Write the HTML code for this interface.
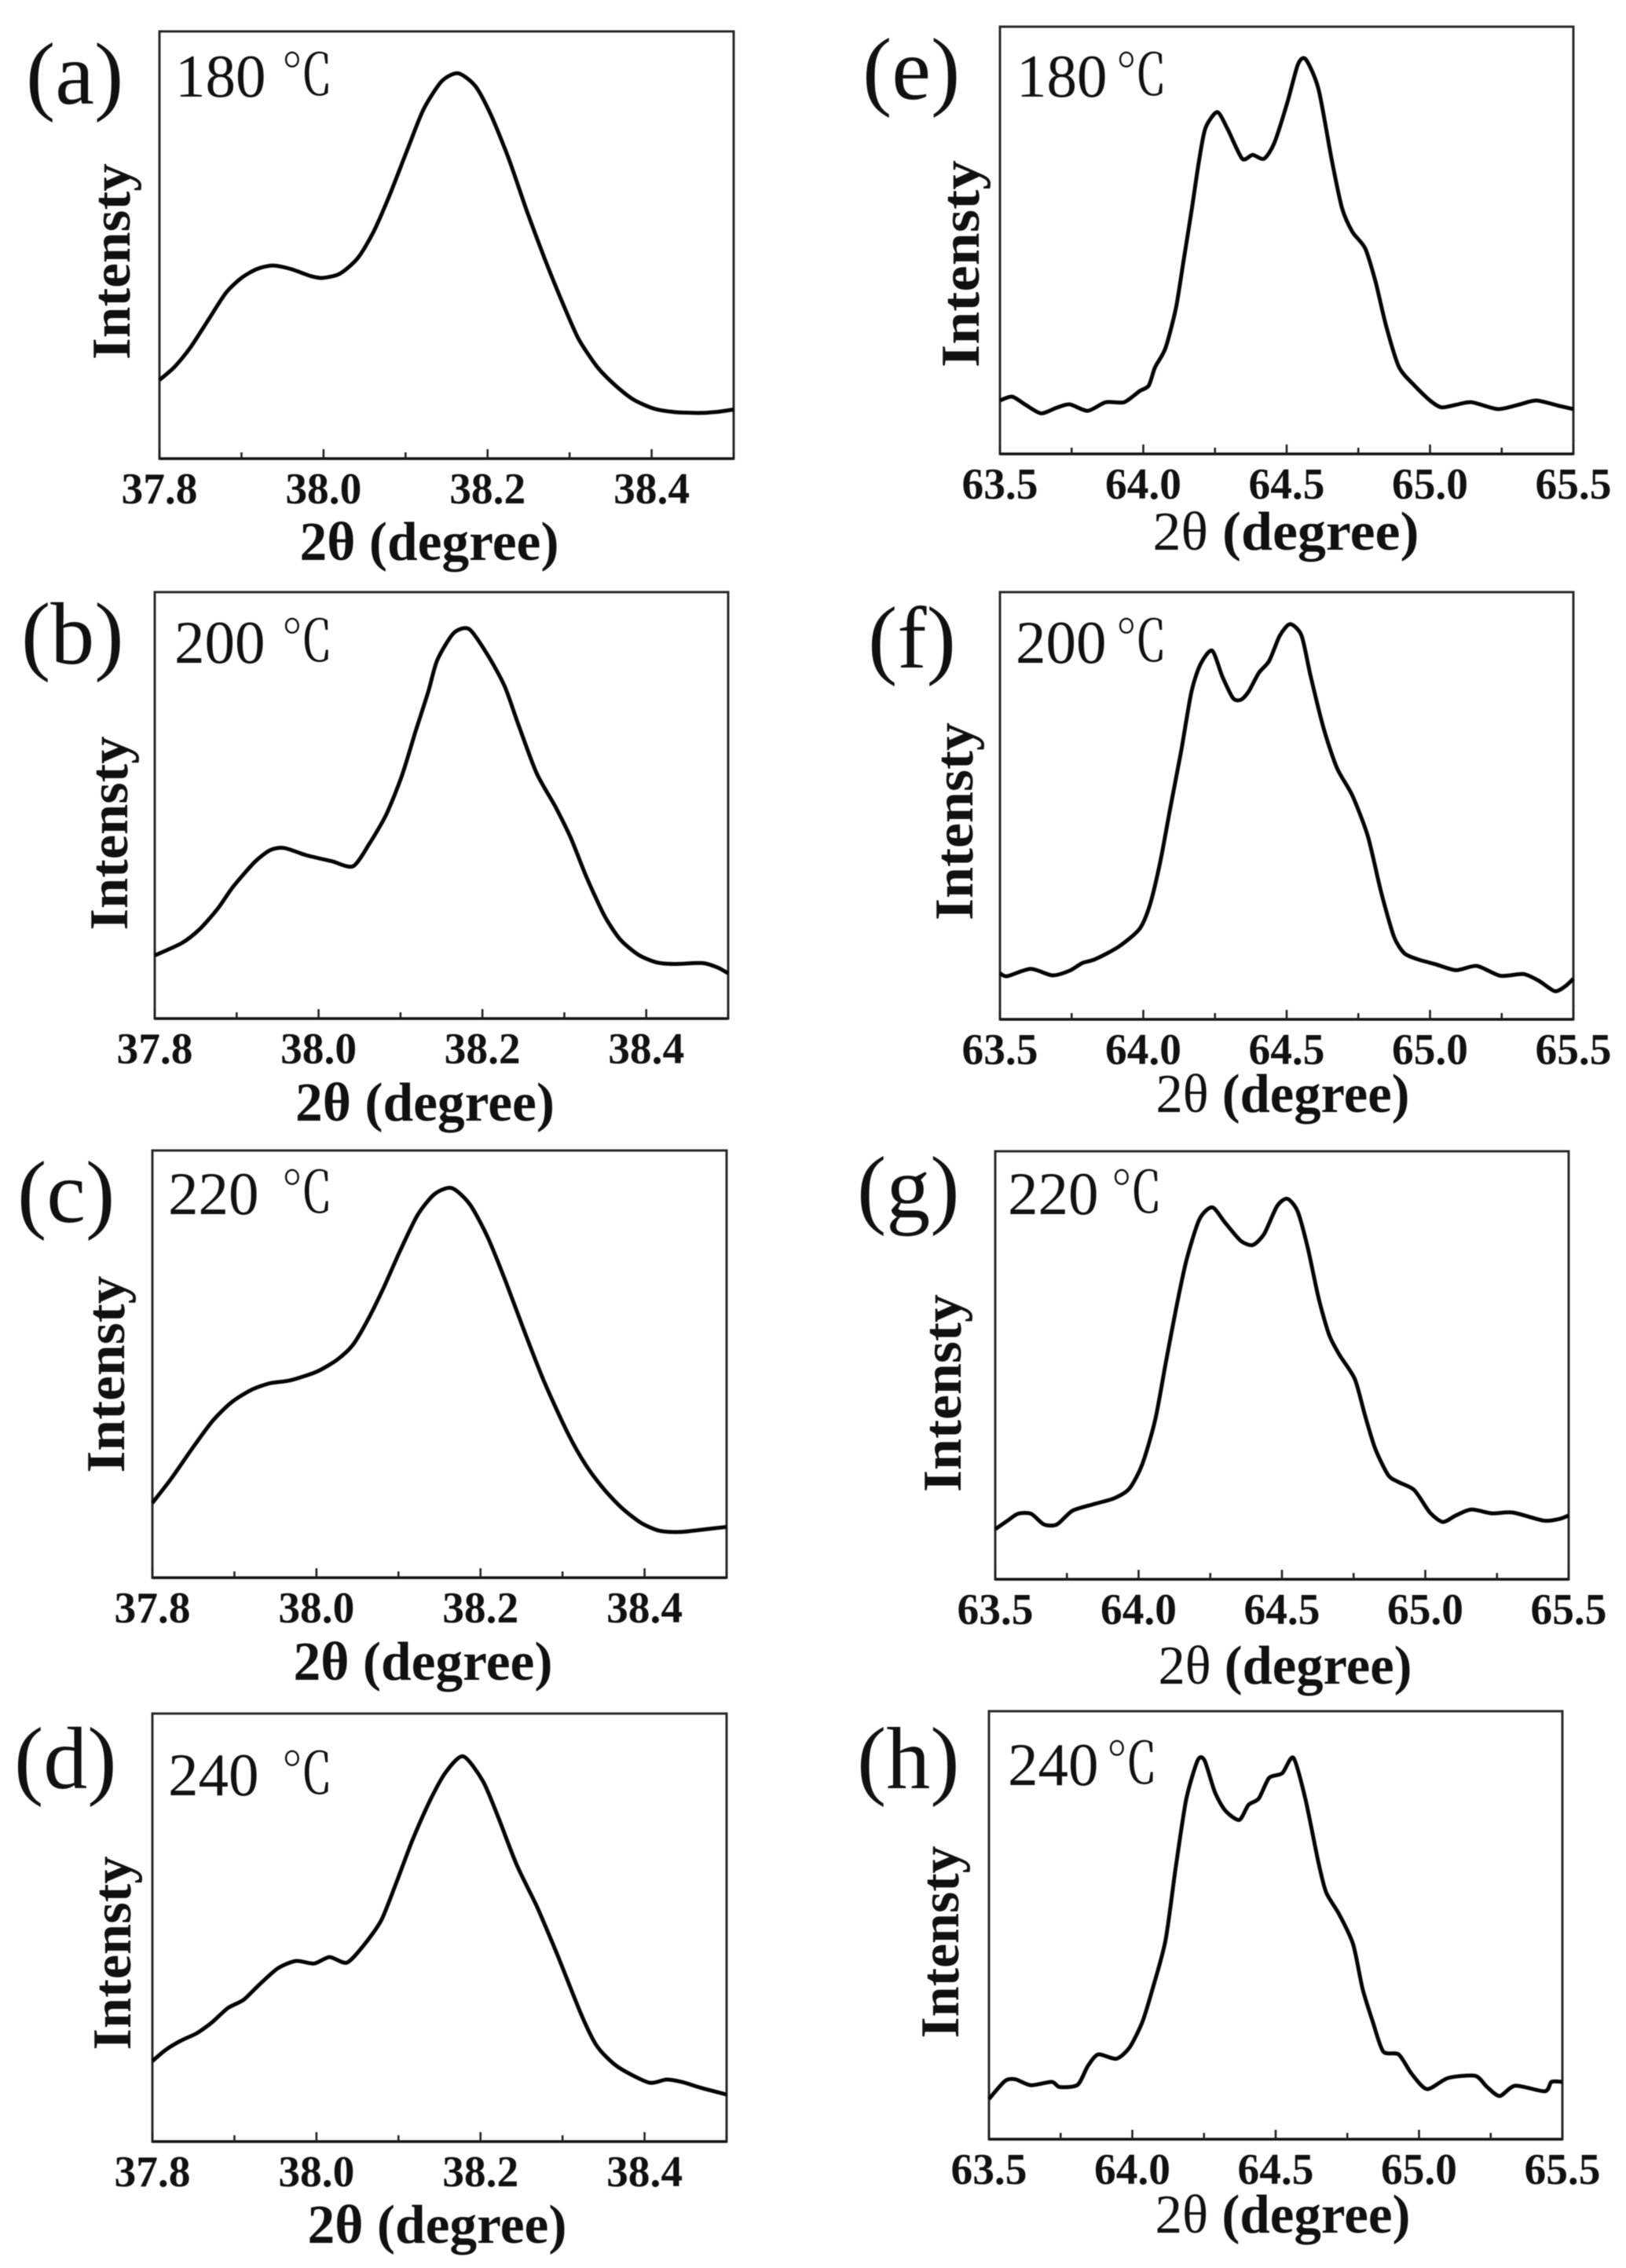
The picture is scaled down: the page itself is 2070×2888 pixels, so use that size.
<!DOCTYPE html>
<html lang="en">
<head>
<meta charset="utf-8">
<title>XRD peak profiles</title>
<style>
html,body{margin:0;padding:0;background:#fff;}
svg{display:block;filter:blur(0.6px);}
text{fill:#111;font-family:"Liberation Serif","Noto Serif CJK SC",serif;}
</style>
</head>
<body>
<svg id="figure" xmlns="http://www.w3.org/2000/svg" width="2070" height="2888" viewBox="0 0 2070 2888"></svg>
<script>
// ---- Data: 2-theta (degree) and relative intensity (0-100 of axis height) ----
const thetaA = [37.800,37.818,37.837,37.859,37.881,37.900,37.919,37.938,37.960,37.985,37.999,38.020,38.042,38.061,38.080,38.103,38.122,38.144,38.164,38.185,38.204,38.226,38.248,38.270,38.292,38.311,38.334,38.356,38.378,38.403,38.428,38.460,38.482,38.500];
const intensityA = [18.4,21.4,25.8,32.3,38.8,42.3,44.4,45.2,44.4,42.7,42.3,43.3,47.0,53.1,61.4,72.7,81.8,88.3,90.2,87.2,80.5,70.1,57.9,46.6,36.2,28.0,21.4,17.1,13.8,11.7,10.9,10.7,11.0,11.5];

const thetaB = [37.800,37.833,37.855,37.877,37.896,37.922,37.941,37.958,37.985,38.016,38.042,38.062,38.083,38.102,38.118,38.134,38.145,38.165,38.184,38.206,38.227,38.244,38.266,38.289,38.308,38.327,38.349,38.368,38.390,38.412,38.434,38.469,38.488,38.500];
const intensityB = [14.8,17.7,21.0,25.8,31.0,36.7,39.5,40.0,38.3,36.9,35.7,41.0,48.0,57.1,67.1,76.7,84.1,90.4,91.3,85.4,78.0,68.9,57.6,49.7,42.3,33.2,24.1,18.6,15.0,13.2,12.8,13.0,11.9,10.6];

const thetaC = [37.800,37.823,37.848,37.873,37.896,37.921,37.943,37.968,38.000,38.025,38.044,38.063,38.082,38.101,38.123,38.144,38.165,38.187,38.209,38.231,38.253,38.278,38.307,38.329,38.351,38.373,38.396,38.418,38.443,38.468,38.500];
const intensityC = [17.5,23.2,30.1,36.6,41.0,44.0,45.5,46.2,48.2,51.0,54.4,60.5,67.9,76.1,84.8,89.8,91.2,87.4,79.6,69.2,57.9,45.7,33.6,26.2,20.6,16.2,12.8,11.0,10.7,11.2,11.9];

const thetaD = [37.800,37.816,37.835,37.854,37.873,37.892,37.911,37.930,37.953,37.975,37.997,38.016,38.037,38.057,38.079,38.098,38.117,38.139,38.158,38.179,38.203,38.222,38.244,38.269,38.294,38.323,38.342,38.367,38.405,38.427,38.446,38.468,38.500];
const intensityD = [18.8,21.4,23.6,25.3,27.9,31.2,33.1,36.6,40.5,42.2,41.6,43.1,41.8,45.7,51.7,60.8,70.4,79.9,86.4,90.0,84.2,75.6,64.7,54.8,43.5,29.6,22.3,17.5,13.8,14.5,13.9,12.6,11.0];

const thetaE = [63.500,63.543,63.589,63.643,63.697,63.743,63.806,63.869,63.933,63.987,64.019,64.041,64.077,64.114,64.141,64.168,64.195,64.217,64.258,64.295,64.345,64.381,64.421,64.457,64.503,64.539,64.566,64.611,64.657,64.693,64.729,64.774,64.810,64.847,64.892,64.946,65.000,65.040,65.091,65.145,65.236,65.308,65.371,65.453,65.500];
const intensityE = [12.5,13.4,11.5,9.5,10.8,11.6,10.1,12.1,12.1,14.7,16.0,20.3,24.7,34.2,45.5,56.8,68.9,76.3,80.0,75.9,69.1,70.0,69.1,72.8,82.4,91.1,92.4,85.4,68.9,57.6,52.0,48.1,40.3,29.9,20.3,16.0,12.5,10.9,11.5,12.1,10.5,11.5,12.5,11.2,10.5];

const thetaF = [63.500,63.525,63.607,63.683,63.743,63.788,63.833,63.914,63.987,64.023,64.059,64.095,64.132,64.168,64.200,64.240,64.276,64.313,64.340,64.367,64.403,64.439,64.476,64.512,64.552,64.584,64.629,64.675,64.729,64.783,64.829,64.874,64.910,64.955,65.019,65.091,65.163,65.245,65.326,65.380,65.435,65.471,65.500];
const intensityF = [10.8,10.1,11.8,10.3,11.4,13.2,14.1,17.0,21.2,26.8,36.8,49.8,62.8,76.7,83.2,86.3,80.2,75.2,74.8,76.7,81.1,83.9,89.8,92.5,89.8,80.2,68.1,58.9,52.4,42.9,29.9,19.4,15.5,14.1,12.9,11.5,12.5,10.2,10.6,9.0,6.6,7.7,9.5];

const thetaG = [63.500,63.543,63.579,63.625,63.670,63.715,63.769,63.841,63.914,63.968,64.013,64.058,64.094,64.131,64.167,64.212,64.257,64.302,64.356,64.398,64.438,64.483,64.519,64.555,64.591,64.627,64.664,64.700,64.754,64.790,64.826,64.871,64.907,64.962,65.016,65.061,65.106,65.160,65.233,65.305,65.413,65.467,65.500];
const intensityG = [11.7,13.7,15.3,15.3,12.8,12.8,16.0,17.5,18.9,21.2,26.9,37.3,50.3,63.3,74.6,84.1,86.9,83.3,79.1,78.1,80.7,87.2,88.9,85.9,77.2,65.9,57.2,52.5,46.8,38.2,30.4,24.3,22.7,20.8,15.6,13.4,14.9,16.3,15.4,15.6,13.7,14.1,14.9];

const thetaH = [63.500,63.556,63.592,63.646,63.719,63.746,63.809,63.845,63.881,63.944,63.990,64.035,64.071,64.116,64.152,64.188,64.228,64.252,64.288,64.324,64.373,64.405,64.441,64.477,64.523,64.562,64.604,64.649,64.676,64.721,64.770,64.803,64.839,64.875,64.929,64.974,65.028,65.101,65.196,65.236,65.281,65.336,65.439,65.462,65.500];
const intensityH = [9.4,13.6,14.0,12.6,13.4,12.2,12.7,17.1,19.8,18.8,21.4,27.4,35.2,46.5,63.8,79.4,88.5,88.5,81.1,76.8,74.6,78.1,79.6,84.4,85.5,89.1,79.4,64.7,57.7,52.6,45.6,35.2,27.4,20.5,19.8,15.3,11.7,14.3,14.8,12.3,10.1,12.5,11.2,13.4,13.4];

// ---- Axis tick values and labels ----
const leftDomain = [37.8, 38.5];
const rightDomain = [63.5, 65.5];
const leftMajorTicks = [37.8, 38.0, 38.2, 38.4];
const leftMajorLabels = ['37.8', '38.0', '38.2', '38.4'];
const leftMinorTicks = [37.9, 38.1, 38.3, 38.5];
const rightMajorTicks = [63.5, 64.0, 64.5, 65.0, 65.5];
const rightMajorLabels = ['63.5', '64.0', '64.5', '65.0', '65.5'];
const rightMinorTicks = [63.75, 64.25, 64.75, 65.25];
const temperatures = ['180', '200', '220', '240'];

// ---- Panel layout ----
const panels = [
 {id:'a',t:0,theta:thetaA,val:intensityA,side:'L',L:203,R:934,T:40,B:584,lx:33,ly:132,tx:223,ty:123,cx:358,xc:-22,xb:129,xw:330,yb:165,yc:333,yl:250},
 {id:'b',t:1,theta:thetaB,val:intensityB,side:'L',L:197,R:927,T:754,B:1297,lx:27,ly:845,tx:222,ty:844,cx:358,xc:-21,xb:130,xw:330,yb:162,yc:1061,yl:247},
 {id:'c',t:2,theta:thetaC,val:intensityC,side:'L',L:194,R:925,T:1465,B:2009,lx:22,ly:1556,tx:214,ty:1546,cx:358,xc:-21,xb:130,xw:330,yb:158,yc:1750,yl:251},
 {id:'d',t:3,theta:thetaD,val:intensityD,side:'L',L:194,R:925,T:2182,B:2727,lx:18,ly:2277,tx:214,ty:2286,cx:358,xc:-3,xb:129,xw:330,yb:166,yc:2487,yl:247},
 {id:'e',t:0,theta:thetaE,val:intensityE,side:'R',L:1273,R:2003,T:34,B:578,lx:1098,ly:126,tx:1294,ty:123,cx:1420,xc:-1,xb:122,xw:339,yb:1246,yc:336,yl:264},
 {id:'f',t:1,theta:thetaF,val:intensityF,side:'R',L:1273,R:2003,T:754,B:1298,lx:1105,ly:850,tx:1293,ty:844,cx:1420,xc:-5,xb:118,xw:323,yb:1238,yc:1046,yl:252},
 {id:'g',t:2,theta:thetaG,val:intensityG,side:'R',L:1267,R:1997,T:1466,B:2011,lx:1091,ly:1550,tx:1283,ty:1546,cx:1414,xc:4,xb:133,xw:323,yb:1223,yc:1774,yl:252},
 {id:'h',t:3,theta:thetaH,val:intensityH,side:'R',L:1259,R:1989,T:2179,B:2724,lx:1091,ly:2277,tx:1283,ty:2273,cx:1408,xc:9,xb:119,xw:325,yb:1220,yc:2473,yl:245}
];

const NS = 'http://www.w3.org/2000/svg';
const root = document.getElementById('figure');

function node(tag, attrs, parent, content) {
  const el = document.createElementNS(NS, tag);
  for (const k in attrs) el.setAttribute(k, attrs[k]);
  if (content !== undefined) el.textContent = content;
  parent.appendChild(el);
  return el;
}

function curvePath(xs, ys) {
  let d = 'M' + xs[0].toFixed(1) + ' ' + ys[0].toFixed(1);
  for (let i = 0; i < xs.length - 1; i++) {
    const i0 = Math.max(i - 1, 0), i3 = Math.min(i + 2, xs.length - 1);
    const c1x = xs[i] + (xs[i + 1] - xs[i0]) / 8, c1y = ys[i] + (ys[i + 1] - ys[i0]) / 8;
    const c2x = xs[i + 1] - (xs[i3] - xs[i]) / 8, c2y = ys[i + 1] - (ys[i3] - ys[i]) / 8;
    d += 'C' + c1x.toFixed(1) + ' ' + c1y.toFixed(1) + ' ' + c2x.toFixed(1) + ' ' + c2y.toFixed(1) + ' ' + xs[i + 1].toFixed(1) + ' ' + ys[i + 1].toFixed(1);
  }
  return d;
}

panels.forEach(function (p) {
  const left = p.side === 'L';
  const domain = left ? leftDomain : rightDomain;
  const majors = left ? leftMajorTicks : rightMajorTicks;
  const labels = left ? leftMajorLabels : rightMajorLabels;
  const minors = left ? leftMinorTicks : rightMinorTicks;
  const xScale = function (v) { return p.L + (v - domain[0]) / (domain[1] - domain[0]) * (p.R - p.L); };
  const yScale = function (v) { return p.B - v / 100 * (p.B - p.T); };

  const g = node('g', {}, root);
  
  

  const frame = node('rect', {x:p.L, y:p.T, width:p.R - p.L, height:p.B - p.T, fill:'none', stroke:'#2a2a2a', 'stroke-width':3}, g);
  
  

  const baseLine = node('line', {x1:p.L, x2:p.R, y1:p.B, y2:p.B, stroke:'#111', 'stroke-width':3.4}, g);
  
  

  majors.forEach(function (v, i) {
    const tick = node('line', {x1:xScale(v), x2:xScale(v), y1:p.B, y2:p.B - 12, stroke:'#222', 'stroke-width':2.6}, g);
    
    
    const label = node('text', {x:xScale(v), y:p.B + 57, 'text-anchor':'middle', 'font-size':56, 'font-weight':'bold', textLength:97, lengthAdjust:'spacingAndGlyphs'}, g, labels[i]);
    
    
  });

  minors.forEach(function (v) {
    const tick = node('line', {x1:xScale(v), x2:xScale(v), y1:p.B, y2:p.B - 8, stroke:'#222', 'stroke-width':2.6}, g);
    
    
  });

  const curve = node('path', {d:curvePath(p.theta.map(xScale), p.val.map(yScale)), fill:'none', stroke:'#050505', 'stroke-width':5, 'stroke-linejoin':'round', 'stroke-linecap':'butt'}, g);
  
  

  const letter = node('text', {x:p.lx, y:p.ly, 'font-size':112}, g, '(' + p.id + ')');
  
  

  const temp = node('text', {x:p.tx, y:p.ty, 'font-size':77}, g, temperatures[p.t]);
  
  

  const unit = node('text', {x:p.cx, y:p.ty - 2, 'font-size':72, 'font-family':'"Noto Serif CJK SC", serif', textLength:66, lengthAdjust:'spacingAndGlyphs'}, g, '\u2103');
  
  

  const xTitle = node('text', {x:(p.L + p.R) / 2 + p.xc, y:p.B + p.xb, 'text-anchor':'middle', 'font-size':70, 'font-weight':'bold', textLength:p.xw, lengthAdjust:'spacingAndGlyphs'}, g);
  
  
  const head = node('tspan', {'font-weight':left ? 'bold' : 'normal'}, xTitle, '2\u03B8 ');
  
  
  const tail = node('tspan', {}, xTitle, '(degree)');
  
  

  const yTitle = node('text', {x:0, y:0, transform:'translate(' + p.yb + ' ' + p.yc + ') rotate(-90)', 'text-anchor':'middle', 'font-size':70, 'font-weight':'bold', textLength:p.yl, lengthAdjust:'spacingAndGlyphs'}, g, 'Intensty');
  
  
});
</script>
</body>
</html>
